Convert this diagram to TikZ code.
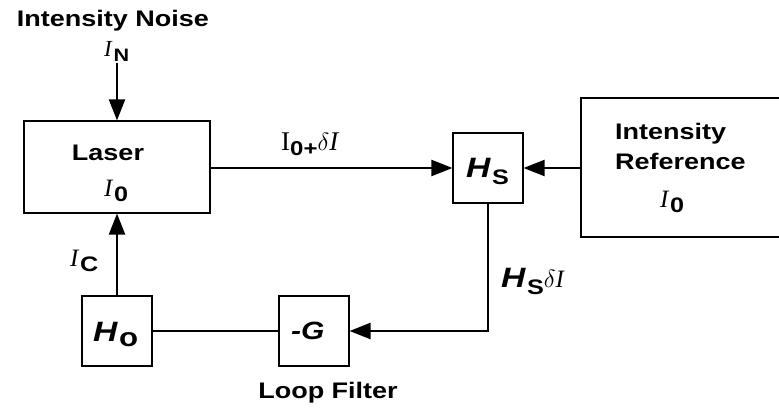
\documentclass[tikz,border=0pt]{standalone}
\usepackage{fontspec}
\setmainfont{Liberation Sans}
\newfontfamily\hv{Liberation Sans}[FakeStretch=1.2]
\newfontfamily\tm{Liberation Serif}
\usetikzlibrary{arrows.meta}
\newcommand{\fs}[1]{\fontsize{#1}{#1}\selectfont}
\newcommand{\TI}[1]{{\tm\itshape\fs{#1}I}}
\newcommand{\SB}[3]{\raisebox{-#2}{\hv\bfseries\fs{#1}#3}}
\newcommand{\HI}[1]{{\hv\bfseries\itshape\fs{#1}H}}
\begin{document}
\begin{tikzpicture}[x=1pt,y=-1pt,
  blk/.style={draw,line width=1.1pt,inner sep=0pt},
  conn/.style={line width=2.2pt},
  arr/.style={conn,-{Triangle[length=21pt,width=16pt]}},
  lbl/.style={inner sep=0pt,anchor=base,font=\hv\bfseries\fontsize{22.5}{30}\selectfont},
  sym/.style={inner sep=0pt,anchor=base west}]
\useasboundingbox (0,0) rectangle (779,411);
% boxes
\node[blk,minimum width=186pt,minimum height=92pt] (laser) at (117,167) {};
\node[blk,minimum width=70pt,minimum height=70pt] (hs) at (488,168) {};
\node[blk,minimum width=212pt,minimum height=139pt] (ref) at (687,167.5) {};
\node[blk,minimum width=70pt,minimum height=70pt] (ho) at (117,331) {};
\node[blk,minimum width=70pt,minimum height=70pt] (g) at (314,331) {};
% texts
\node[lbl] (tnoise) at (113,26.5) {Intensity Noise};
\node[sym] (tin) at (104,57) {\TI{23}\,\SB{18}{5pt}{N}};
\node[lbl] (tlaser) at (108,161) {Laser};
\node[sym] (tlio) at (104,197) {\TI{25}\,\SB{21}{5pt}{0}};
\node[sym] (tdi) at (281,151) {{\tm\fs{27}I}\SB{20}{5pt}{0+}{\tm\itshape\fs{27}$\delta$I}};
\node[sym] (ths) at (466,178) {\HI{28}\,\SB{21}{7pt}{S}};
\node[lbl,anchor=base west,align=left] (tref) at (615,170) {Intensity\\Reference};
\node[sym] (trio) at (660,208) {\TI{25}\,\SB{21}{5pt}{0}};
\node[sym] (thsd) at (501,288) {\HI{28}\,\SB{21}{7pt}{S}{\tm\itshape\fs{25}$\delta$I}};
\node[sym] (tic) at (70,267) {\TI{25}\,\SB{21}{5pt}{C}};
\node[sym] (tho) at (93,342) {\HI{28}\,\SB{26}{5pt}{o}};
\node[sym] (tg) at (291,340) {{\hv\bfseries\itshape\fs{25}-G}};
\node[lbl] (tloop) at (328,399) {Loop Filter};
% connectors
\coordinate (nin) at (117,63);
\draw[arr] (nin) -- (laser.north);
\draw[arr] (laser.east |- hs.west) -- (hs.west);
\draw[arr] (ref.west |- hs.east) -- (hs.east);
\draw[arr] (hs.south) |- (g.east);
\draw[conn] (ho.east) -- (g.west);
\draw[arr] (ho.north) -- (laser.south);
\end{tikzpicture}
\end{document}
